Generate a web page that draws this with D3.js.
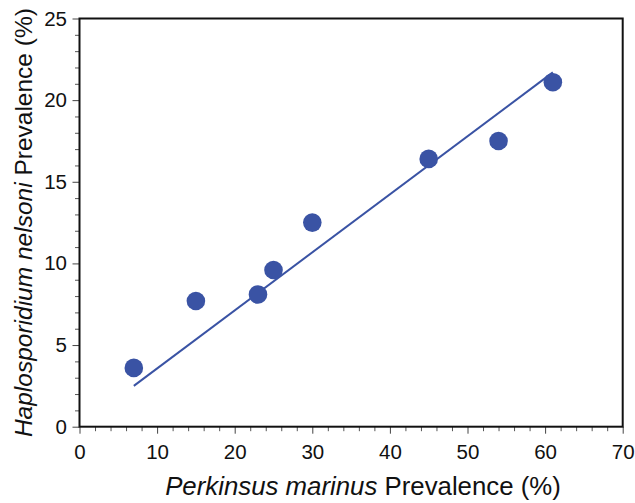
<!DOCTYPE html>
<html>
<head>
<meta charset="utf-8">
<script src="https://cdn.jsdelivr.net/npm/d3@7"></script>
<style>
  body { margin: 0; background: #fff; }
  text { font-family: "Liberation Sans", Arial, Helvetica, sans-serif; }
</style>
</head>
<body>
<script>
// data
const perkinsus = [7, 15, 23, 25, 30, 45, 54, 61];
const haplo = [3.6, 7.7, 8.1, 9.6, 12.5, 16.4, 17.5, 21.1];
// regression line end points
const fitX = [7, 61];
const fitY = [2.5, 21.7];
const xTicks = [0, 10, 20, 30, 40, 50, 60, 70];
const yTicks = [0, 5, 10, 15, 20, 25];

const W = 635, H = 503;
const margin = {top: 18.5, right: 12.3, bottom: 76.3, left: 79.5};
const width = W - margin.left - margin.right;
const height = H - margin.top - margin.bottom;
const dotColor = "#3a53a4";

const svg = d3.select("body").append("svg")
    .attr("width", W)
    .attr("height", H);

const g = svg.append("g")
    .attr("transform", "translate(" + margin.left + "," + margin.top + ")");

const x = d3.scaleLinear().domain([0, 70]).range([0, width]);
const y = d3.scaleLinear().domain([0, 25]).range([height, 0]);

// minor ticks
const xMinor = d3.range(0, 70.01, 2).filter(v => v % 10 !== 0);
const yMinor = d3.range(0, 25.01, 1).filter(v => v % 5 !== 0);

g.append("g")
    .attr("transform", "translate(0," + height + ")")
    .call(d3.axisBottom(x).tickValues(xMinor).tickSize(4.5).tickFormat(""))
    .call(a => a.select(".domain").remove())
    .selectAll("line").attr("stroke", "#555");

g.append("g")
    .call(d3.axisLeft(y).tickValues(yMinor).tickSize(4.5).tickFormat(""))
    .call(a => a.select(".domain").remove())
    .selectAll("line").attr("stroke", "#555");

// major ticks
const xAxis = g.append("g")
    .attr("transform", "translate(0," + height + ")")
    .call(d3.axisBottom(x).tickValues(xTicks).tickSize(7).tickPadding(11))
    .call(a => a.select(".domain").remove());
xAxis.selectAll("line").attr("stroke", "#444");
xAxis.selectAll("text")
    .attr("font-size", 20.5)
    .attr("fill", "#111")
    .style("font-family", "'Liberation Sans', Arial, sans-serif");

const yAxis = g.append("g")
    .call(d3.axisLeft(y).tickValues(yTicks).tickSize(7).tickPadding(5.5))
    .call(a => a.select(".domain").remove());
yAxis.selectAll("line").attr("stroke", "#444");
yAxis.selectAll("text")
    .attr("font-size", 20.5)
    .attr("fill", "#111")
    .style("font-family", "'Liberation Sans', Arial, sans-serif");

// frame
g.append("rect")
    .attr("x", 0)
    .attr("y", 0)
    .attr("width", width)
    .attr("height", height)
    .attr("fill", "none")
    .attr("stroke", "#111")
    .attr("stroke-width", 2);

// fit line
g.append("line")
    .attr("x1", x(fitX[0]))
    .attr("y1", y(fitY[0]))
    .attr("x2", x(fitX[1]))
    .attr("y2", y(fitY[1]))
    .attr("stroke", dotColor)
    .attr("stroke-width", 2);

// points
g.selectAll(".dot")
    .data(perkinsus)
    .enter()
    .append("circle")
    .attr("class", "dot")
    .attr("cx", d => x(d))
    .attr("cy", (d, i) => y(haplo[i]))
    .attr("r", 9.3)
    .attr("fill", dotColor);

// axis titles
const xt = svg.append("text")
    .attr("x", 363)
    .attr("y", 495)
    .attr("text-anchor", "middle")
    .attr("font-size", 25.8)
    .attr("fill", "#111");
xt.append("tspan").attr("font-style", "italic").text("Perkinsus marinus");
xt.append("tspan").text(" Prevalence (%)");

const yt = svg.append("text")
    .attr("transform", "translate(32," + (margin.top + height / 2) + ") rotate(-90)")
    .attr("text-anchor", "middle")
    .attr("font-size", 24.5)
    .attr("fill", "#111");
yt.append("tspan").attr("font-style", "italic").text("Haplosporidium nelsoni");
yt.append("tspan").text(" Prevalence (%)");
</script>
</body>
</html>
